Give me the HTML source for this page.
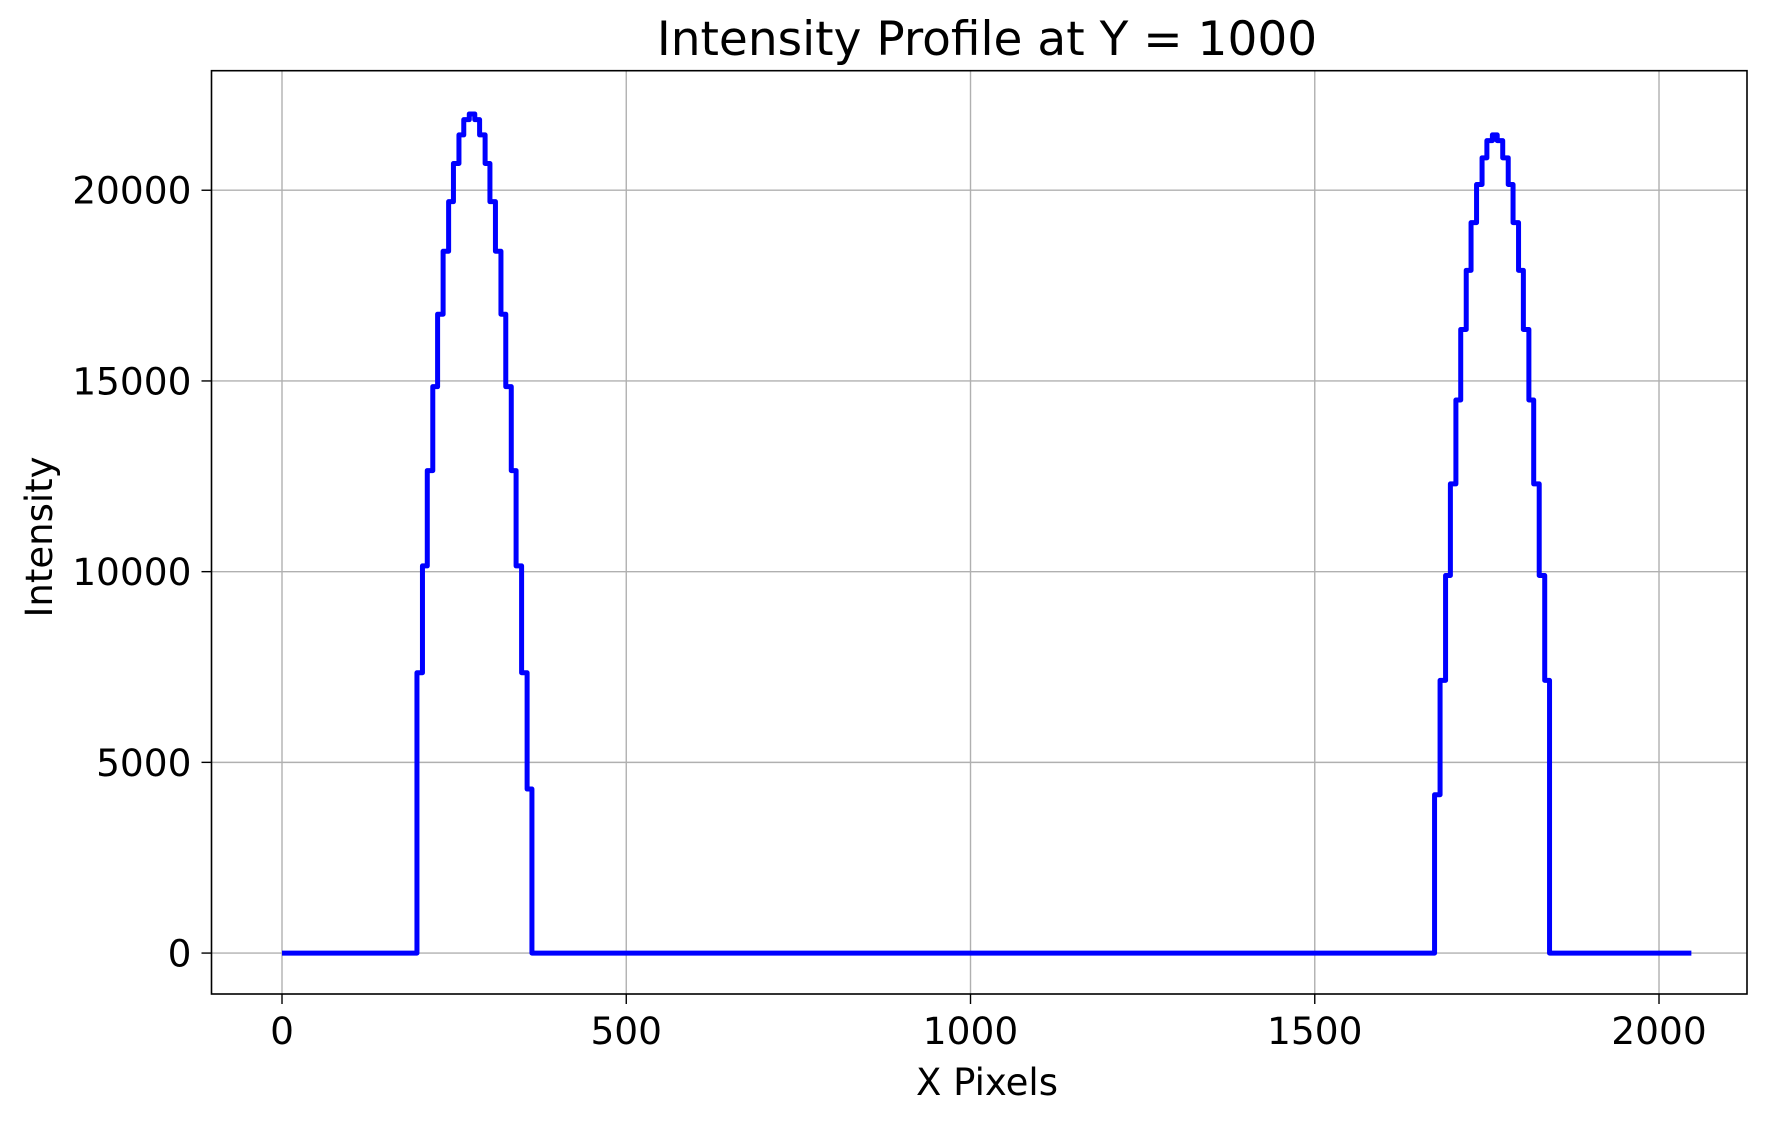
<!DOCTYPE html>
<html><head><meta charset="utf-8"><style>
html,body{margin:0;padding:0;background:#fff;}
svg{display:block;font-family:"DejaVu Sans","Liberation Sans",sans-serif;}
</style></head><body>
<svg id="chart" width="1782" height="1122" viewBox="0 0 1782 1122" xmlns="http://www.w3.org/2000/svg">
<rect x="0" y="0" width="1782" height="1122" fill="#fff"/>
<g id="grid"></g>
<g id="series"></g>
<rect x="211.5" y="70.7" width="1535.5" height="923.3" fill="none" stroke="#000" stroke-width="1.6"/>
<g id="ticks"></g>
<text x="987" y="55" font-size="47" text-anchor="middle">Intensity Profile at Y = 1000</text>
<text x="987" y="1095" font-size="37" text-anchor="middle">X Pixels</text>
<text x="0" y="0" font-size="37" text-anchor="middle" transform="translate(52,537) rotate(-90)">Intensity</text>
</svg>
<script>
const xTicks = [0, 500, 1000, 1500, 2000];
const yTicks = [0, 5000, 10000, 15000, 20000];
const xTickLabels = ["0", "500", "1000", "1500", "2000"];
const yTickLabels = ["0", "5000", "10000", "15000", "20000"];
// step profile: edges (x where level starts) and levels
const stepX = [0, 196, 204, 211, 219, 226, 234, 242, 249, 257, 264, 272, 280, 287, 295, 302, 310, 318, 325, 333, 340, 348, 356, 363,
  1674, 1682, 1690, 1697, 1705, 1712, 1720, 1727, 1735, 1743, 1750, 1758, 1765, 1773, 1781, 1788, 1796, 1803, 1811, 1818, 1826, 1834, 1841];
const stepY = [0, 7350, 10150, 12650, 14850, 16750, 18400, 19700, 20700, 21450, 21850, 22000, 21850, 21450, 20700, 19700, 18400, 16750, 14850, 12650, 10150, 7350, 4300, 0,
  4150, 7150, 9900, 12300, 14500, 16350, 17900, 19150, 20150, 20850, 21300, 21450, 21300, 20850, 20150, 19150, 17900, 16350, 14500, 12300, 9900, 7150, 0];
const xEnd = 2047;

const X0 = 211.5, X1 = 1747, Y0 = 70.7, Y1 = 994;
const xMin = -102.4, xMax = 2127.8, yMin = -1073, yMax = 23134;
const sx = v => X0 + (v - xMin) / (xMax - xMin) * (X1 - X0);
const sy = v => Y1 - (v - yMin) / (yMax - yMin) * (Y1 - Y0);
const NS = "http://www.w3.org/2000/svg";
const mk = (tag, attrs, parent) => { const e = document.createElementNS(NS, tag); for (const k in attrs) e.setAttribute(k, attrs[k]); parent.appendChild(e); return e; };
const grid = document.getElementById('grid'), ticks = document.getElementById('ticks'), series = document.getElementById('series');

xTicks.forEach((v, i) => {
  const x = sx(v);
  const g = mk('line', {x1: x, x2: x, y1: Y0, y2: Y1, stroke: '#b0b0b0', 'stroke-width': 1.4}, grid);
  
  
  const t = mk('line', {x1: x, x2: x, y1: Y1, y2: Y1 + 10, stroke: '#000', 'stroke-width': 1.4}, ticks);
  
  
  const l = mk('text', {x: x, y: 1044, 'font-size': 37.5, 'text-anchor': 'middle'}, ticks);
  l.textContent = xTickLabels[i];
  
  
});
yTicks.forEach((v, i) => {
  const y = sy(v);
  const g = mk('line', {x1: X0, x2: X1, y1: y, y2: y, stroke: '#b0b0b0', 'stroke-width': 1.4}, grid);
  
  
  const t = mk('line', {x1: X0 - 10, x2: X0, y1: y, y2: y, stroke: '#000', 'stroke-width': 1.4}, ticks);
  
  
  const l = mk('text', {x: X0 - 20, y: y + 13.5, 'font-size': 37.5, 'text-anchor': 'end'}, ticks);
  l.textContent = yTickLabels[i];
  
  
});

let d = '';
for (let i = 0; i < stepX.length; i++) {
  const xs = sx(stepX[i]), xe = sx(i + 1 < stepX.length ? stepX[i + 1] : xEnd), y = sy(stepY[i]);
  d += (i === 0 ? 'M' : 'L') + xs.toFixed(2) + ',' + y.toFixed(2) + 'L' + xe.toFixed(2) + ',' + y.toFixed(2);
}
const p = mk('path', {d: d, fill: 'none', stroke: '#0000ff', 'stroke-width': 5, 'stroke-linejoin': 'round'}, series);


</script>
</body></html>
